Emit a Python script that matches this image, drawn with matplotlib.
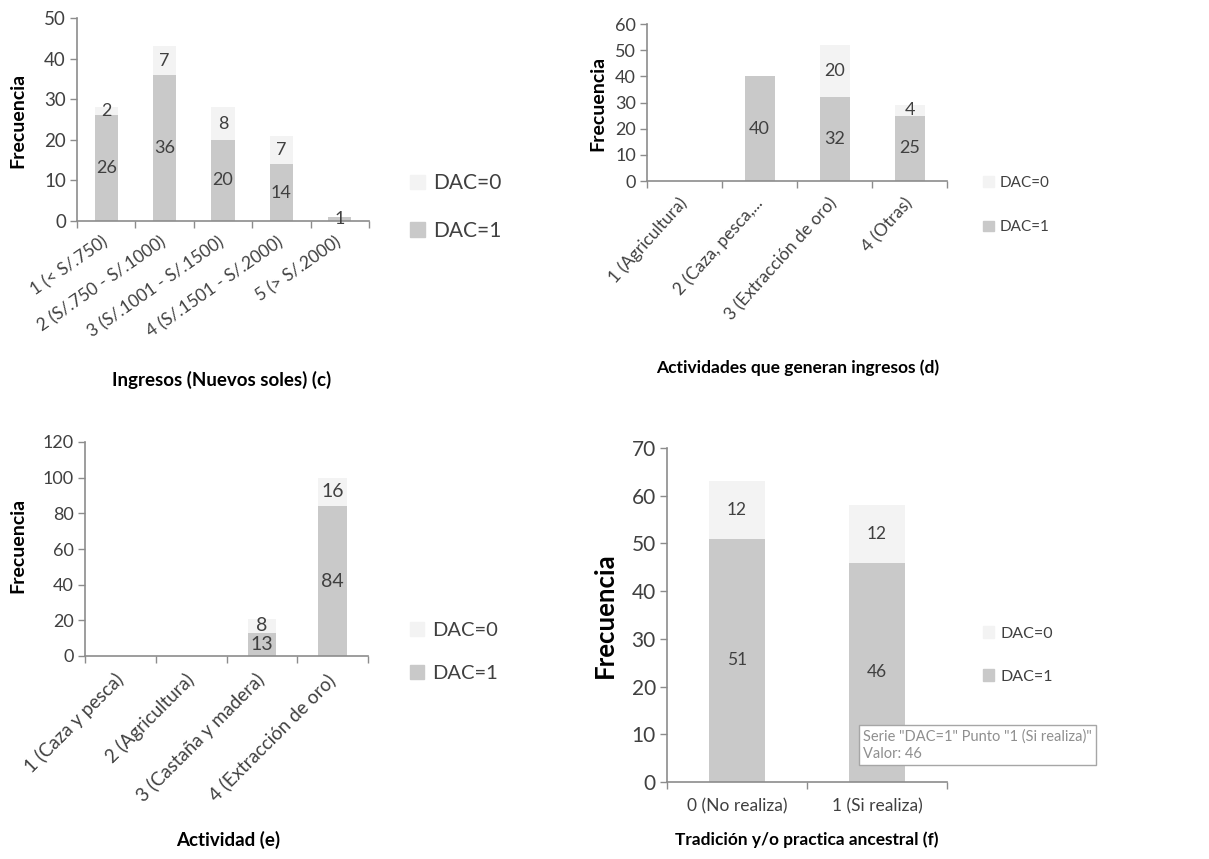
import numpy as np
import matplotlib as mpl
import matplotlib.pyplot as plt
from matplotlib.patches import Patch

mpl.rcParams['font.family'] = ['Lato', 'DejaVu Sans']

# (c) ingresos
cats_c = ['1 (< S/.750)', '2 (S/.750 - S/.1000)', '3 (S/.1001 - S/.1500)',
          '4 (S/.1501 - S/.2000)', '5 (> S/.2000)']
dac1_c = [26, 36, 20, 14, 1]
dac0_c = [2, 7, 8, 7, 0]

# (d) actividades que generan ingresos
cats_d = ['1 (Agricultura)', '2 (Caza, pesca,...', '3 (Extracción de oro)', '4 (Otras)']
dac1_d = [0, 40, 32, 25]
dac0_d = [0, 0, 20, 4]

# (e) actividad
cats_e = ['1 (Caza y pesca)', '2 (Agricultura)', '3 (Castaña y madera)', '4 (Extracción de oro)']
dac1_e = [0, 0, 13, 84]
dac0_e = [0, 0, 8, 16]

# (f) tradicion
cats_f = ['0 (No realiza)', '1 (Si realiza)']
dac1_f = [51, 46]
dac0_f = [12, 12]

C1 = '#c9c9c9'
C0 = '#f3f3f3'
SPINE = '#8c8c8c'
TXT = '#404040'

W, H = 1209, 859
fig = plt.figure(figsize=(W / 100, H / 100), dpi=100, facecolor='white')


def px(x0, y0, x1, y1):
    return [x0 / W, 1 - y1 / H, (x1 - x0) / W, (y1 - y0) / H]


def panel(rect, cats, v1, v0, ymax, step, fs_tick, fs_cat, fs_lab, rot, pad):
    ax = fig.add_axes(rect)
    x = np.arange(len(cats))
    b1 = ax.bar(x, v1, 0.4, color=C1, label='DAC=1')
    b0 = ax.bar(x, v0, 0.4, bottom=v1, color=C0, label='DAC=0')
    for bars, vals in ((b1, v1), (b0, v0)):
        labs = [str(v) if v > 0 else '' for v in vals]
        ax.bar_label(bars, labels=labs, label_type='center', fontsize=fs_lab, color=TXT)
    ax.set_xlim(-0.5, len(cats) - 0.5)
    ax.set_ylim(0, ymax)
    ax.set_yticks(np.arange(0, ymax + 1, step))
    ax.set_xticks(x)
    if rot:
        ax.set_xticklabels(cats, rotation=rot, ha='right', va='center',
                           rotation_mode='anchor', fontsize=fs_cat, color=TXT)
    else:
        ax.set_xticklabels(cats, fontsize=fs_cat, color=TXT)
    ax.set_xticks(np.arange(len(cats) + 1) - 0.5, minor=True)
    ax.tick_params(axis='x', which='major', length=0, pad=pad)
    ax.tick_params(axis='x', which='minor', length=5, color=SPINE, width=1)
    ax.tick_params(axis='y', length=5, color=SPINE, width=1, labelsize=fs_tick,
                   labelcolor=TXT, pad=3)
    for s in ['top', 'right']:
        ax.spines[s].set_visible(False)
    for s in ['left', 'bottom']:
        ax.spines[s].set_color(SPINE)
        ax.spines[s].set_linewidth(1.2)
    return ax


def legend(ax, xy, fs, spacing):
    handles = [Patch(color=C0, label='DAC=0'), Patch(color=C1, label='DAC=1')]
    ax.legend(handles=handles, loc='center left', bbox_to_anchor=xy,
              bbox_transform=fig.transFigure, frameon=False, fontsize=fs,
              handlelength=0.7, handleheight=0.7, handletextpad=0.4,
              labelspacing=spacing, borderpad=0, borderaxespad=0,
              labelcolor=TXT)


def ylab(x, y, fs):
    fig.text(x / W, 1 - y / H, 'Frecuencia', rotation=90, ha='center', va='center',
             fontsize=fs, fontweight='bold', color='black')


def xlab(x, y, text, fs):
    fig.text(x / W, 1 - y / H, text, ha='center', va='center', fontsize=fs,
             fontweight='bold', color='black')


# (c)
ax = panel(px(77, 18, 369, 221), cats_c, dac1_c, dac0_c, 50, 10, 13.5, 12.5, 13, 35, 14)
legend(ax, (410 / W, 1 - 207 / H), 15, 1.3)
ylab(18, 120, 14)
xlab(222, 380, 'Ingresos (Nuevos soles) (c)', 13.5)

# (d)
ax = panel(px(647, 24, 947, 181), cats_d, dac1_d, dac0_d, 60, 10, 13, 12.5, 13, 48, 14)
legend(ax, (983 / W, 1 - 205 / H), 11, 2.0)
ylab(598, 103, 14)
xlab(798, 368, 'Actividades que generan ingresos (d)', 12.5)

# (e)
ax = panel(px(85, 442, 368, 656), cats_e, dac1_e, dac0_e, 120, 20, 13, 13.5, 14, 45, 15)
legend(ax, (410 / W, 1 - 652 / H), 14.5, 1.3)
ylab(18, 545, 14)
xlab(228, 840, 'Actividad (e)', 13.5)

# (f)
ax = panel(px(667, 448, 947, 782), cats_f, dac1_f, dac0_f, 70, 10, 15, 12.5, 12.5, 0, 12)
legend(ax, (983 / W, 1 - 655 / H), 11.5, 1.8)
ylab(605, 615, 18.5)
xlab(807, 840, 'Tradición y/o practica ancestral (f)', 12.4)

# tooltip from the screenshot
fig.text(863 / W, 1 - 745 / H, 'Serie "DAC=1" Punto "1 (Si realiza)"\nValor: 46',
         ha='left', va='center', fontsize=10.5, color='#8f8f8f', linespacing=1.3,
         bbox=dict(boxstyle='square,pad=0.3', facecolor='white', edgecolor='#a6a6a6',
                   linewidth=1))

fig.savefig('out.png', dpi=100, facecolor='white')
